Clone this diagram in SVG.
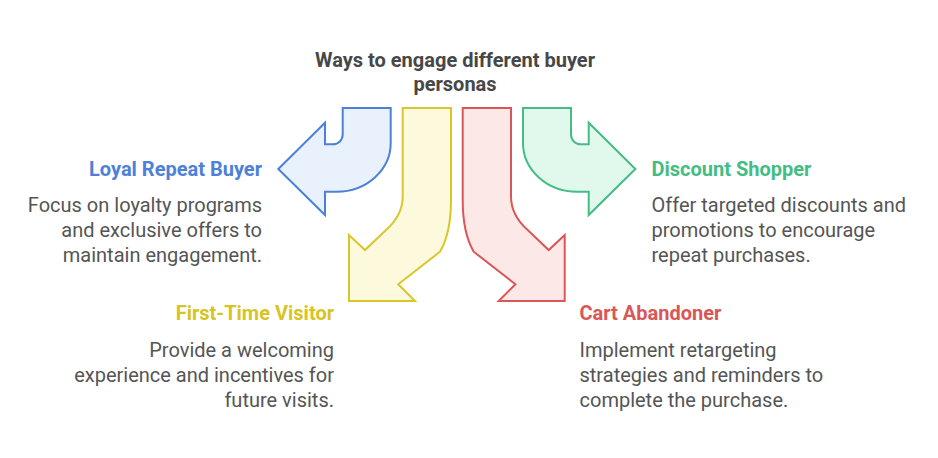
<svg xmlns="http://www.w3.org/2000/svg" width="938" height="458" viewBox="0 0 938 458">
<style>
.t{font-family:Roboto,"Liberation Sans",sans-serif;}
.title{font-size:20px;font-weight:bold;fill:#474747;}
.lab{font-size:20px;font-weight:bold;}
.body{font-size:20px;fill:#555555;}
.arrow{stroke-width:2;stroke-linejoin:miter;}
</style>
<rect width="938" height="458" fill="#ffffff"/>
<g id="title" class="t title" text-anchor="middle">
<text x="455" y="67">Ways to engage different buyer</text>
<text x="455" y="91">personas</text>
</g>
<g id="connectors">
<path id="arrow-blue" class="arrow" fill="#e9f1fd" stroke="#4d81d8" d="M342.7,108 H390.7 V143 A54,48.7 0 0 1 336.7,191.7 H325 V215 L278.3,169 L325,122.7 V144.3 H333 A9.7,9.7 0 0 0 342.7,134.6 Z"/>
<path id="arrow-yellow" class="arrow" fill="#fdf9dc" stroke="#d9c62c" d="M402.7,108 H451 V200 C451,222 448,238 440,251.7 L398.3,284.3 L415,301 H349 V235 L365,250 L386,230 Q402.7,215 402.7,196.7 Z"/>
<path id="arrow-red" class="arrow" fill="#fde8e8" stroke="#d95757" d="M511,108 H462.7 V200 C462.7,222 465.7,238 473.7,251.7 L515.4,284.3 L498.7,301 H564.7 V235 L548.7,250 L527.7,230 Q511,215 511,196.7 Z"/>
<path id="arrow-green" class="arrow" fill="#e0f9ec" stroke="#43bd84" d="M571,108 H523 V143 A54,48.7 0 0 0 577,191.7 H588.7 V215 L635.4,169 L588.7,122.7 V144.3 H580.7 A9.7,9.7 0 0 1 571,134.6 Z"/>
</g>
<g id="loyal-repeat-buyer" class="t">
<text class="lab" x="262" y="176" text-anchor="end" fill="#4d81d8">Loyal Repeat Buyer</text>
<text class="body" text-anchor="end"><tspan x="262" y="211.5">Focus on loyalty programs</tspan><tspan x="262" y="236.5">and exclusive offers to</tspan><tspan x="262" y="261.5">maintain engagement.</tspan></text>
</g>
<g id="discount-shopper" class="t">
<text class="lab" x="651.5" y="176" fill="#43bd84">Discount Shopper</text>
<text class="body"><tspan x="651.5" y="211.5">Offer targeted discounts and</tspan><tspan x="651.5" y="236.5">promotions to encourage</tspan><tspan x="651.5" y="261.5">repeat purchases.</tspan></text>
</g>
<g id="first-time-visitor" class="t">
<text class="lab" x="334" y="320" text-anchor="end" fill="#d7c423">First-Time Visitor</text>
<text class="body" text-anchor="end"><tspan x="334" y="356.5">Provide a welcoming</tspan><tspan x="334" y="381.5">experience and incentives for</tspan><tspan x="334" y="406.5">future visits.</tspan></text>
</g>
<g id="cart-abandoner" class="t">
<text class="lab" x="579.5" y="320" fill="#d95757">Cart Abandoner</text>
<text class="body"><tspan x="579.5" y="356.5">Implement retargeting</tspan><tspan x="579.5" y="381.5">strategies and reminders to</tspan><tspan x="579.5" y="406.5">complete the purchase.</tspan></text>
</g>
</svg>
